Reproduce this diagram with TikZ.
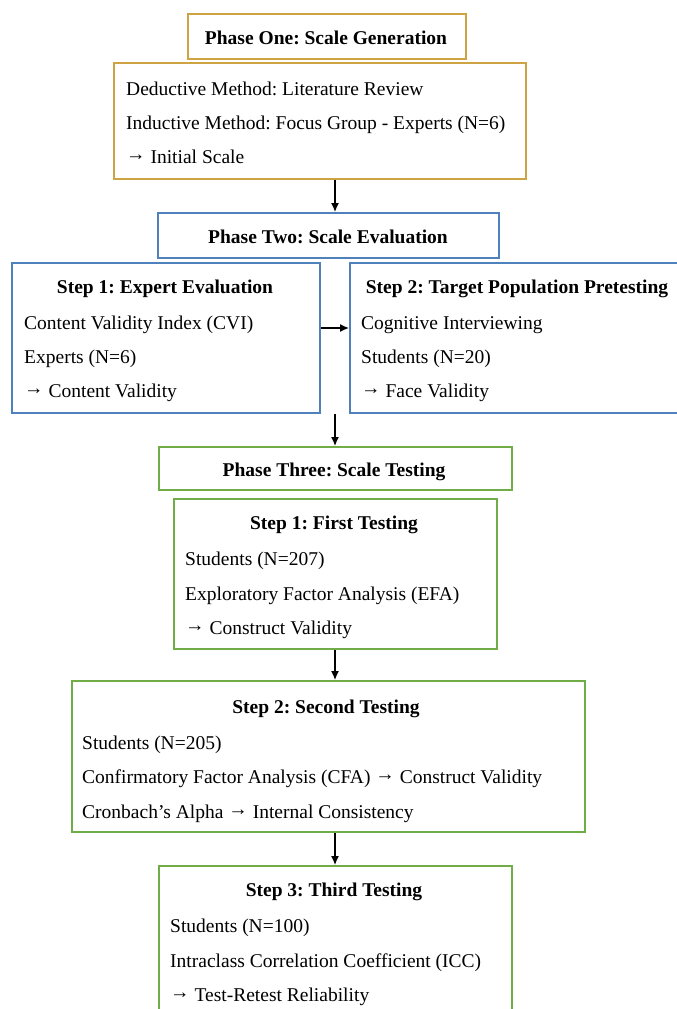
\documentclass[tikz,border=0pt]{standalone}
\usepackage{fontspec}
\setmainfont{Liberation Serif}
\usetikzlibrary{arrows.meta}
\definecolor{genline}{RGB}{206,164,66}
\definecolor{evalline}{RGB}{79,129,189}
\definecolor{testline}{RGB}{112,173,71}
\newcommand{\boxfont}{\fontsize{19.5}{23}\selectfont}
\newcommand{\gives}{\raisebox{2.5pt}{→}\ }
\frenchspacing
\begin{document}
\begin{tikzpicture}[x=1pt,y=-1pt,>={Latex[length=9pt,width=8pt]},
    box/.style={draw,line width=1.8pt,inner sep=0pt,anchor=north west},
    head/.style={font=\boxfont\bfseries,inner sep=0pt,anchor=base},
    item/.style={font=\boxfont,inner sep=0pt,anchor=base west},
    link/.style={->,line width=1.3pt}]
    \path[use as bounding box,clip] (0,0) rectangle (677,1009);
    \coordinate (spine) at (335,0);
    \coordinate (side) at (0,328);
    % phase one
    \node[box,genline,minimum width=278pt,minimum height=45pt] (p1) at (187,13) {};
    \node[head] (p1t) at (326,44) {Phase One: Scale Generation};
    \node[box,genline,minimum width=412pt,minimum height=116pt] (gen) at (113,62) {};
    \node[item] (gen1) at (126,95) {Deductive Method: Literature Review};
    \node[item] (gen2) at (126,129) {Inductive Method: Focus Group - Experts (N=6)};
    \node[item] (gen3) at (126,163) {\gives Initial Scale};
    % phase two
    \node[box,evalline,minimum width=341pt,minimum height=45pt] (p2) at (157,212) {};
    \node[head] (p2t) at (328,243) {Phase Two: Scale Evaluation};
    \node[box,evalline,minimum width=308pt,minimum height=150pt] (ev1) at (11,262) {};
    \node[head] (ev1t) at (165,293) {Step 1: Expert Evaluation};
    \node[item] (ev11) at (24,329) {Content Validity Index (CVI)};
    \node[item] (ev12) at (24,363) {Experts (N=6)};
    \node[item] (ev13) at (24,397) {\gives Content Validity};
    \node[box,evalline,minimum width=340pt,minimum height=150pt] (ev2) at (349,262) {};
    \node[head] (ev2t) at (517,293) {Step 2: Target Population Pretesting};
    \node[item] (ev21) at (361,329) {Cognitive Interviewing};
    \node[item] (ev22) at (361,363) {Students (N=20)};
    \node[item] (ev23) at (361,397) {\gives Face Validity};
    % phase three
    \node[box,testline,minimum width=353pt,minimum height=43pt] (p3) at (158,446) {};
    \node[head] (p3t) at (334,476) {Phase Three: Scale Testing};
    \node[box,testline,minimum width=323pt,minimum height=150pt] (ts1) at (173,498) {};
    \node[head] (ts1t) at (334,529) {Step 1: First Testing};
    \node[item] (ts11) at (185,565) {Students (N=207)};
    \node[item] (ts12) at (185,600) {Exploratory Factor Analysis (EFA)};
    \node[item] (ts13) at (185,634) {\gives Construct Validity};
    \node[box,testline,minimum width=513pt,minimum height=151pt] (ts2) at (71,680) {};
    \node[head] (ts2t) at (326,713) {Step 2: Second Testing};
    \node[item] (ts21) at (82,749) {Students (N=205)};
    \node[item] (ts22) at (82,783) {Confirmatory Factor Analysis (CFA) \gives Construct Validity};
    \node[item] (ts23) at (82,818) {Cronbach’s Alpha \gives Internal Consistency};
    \node[box,testline,minimum width=353pt,minimum height=160pt] (ts3) at (158,865) {};
    \node[head] (ts3t) at (334,896) {Step 3: Third Testing};
    \node[item] (ts31) at (170,932) {Students (N=100)};
    \node[item] (ts32) at (170,967) {Intraclass Correlation Coefficient (ICC)};
    \node[item] (ts33) at (170,1001) {\gives Test-Retest Reliability};
    % connectors
    \draw[link] (gen.south -| spine) -- (p2.north -| spine);
    \draw[link] (ev1.east |- side) -- (ev2.west |- side);
    \draw[link] (ev1.south -| spine) -- (p3.north -| spine);
    \draw[link] (ts1.south -| spine) -- (ts2.north -| spine);
    \draw[link] (ts2.south -| spine) -- (ts3.north -| spine);
  \end{tikzpicture}
\end{document}
